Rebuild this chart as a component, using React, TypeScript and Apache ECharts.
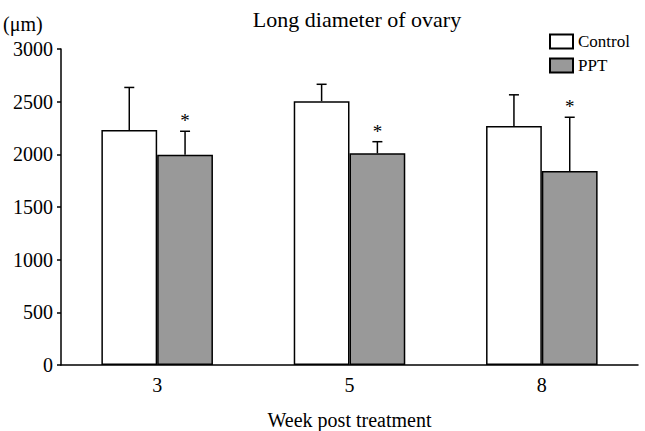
import React, { useEffect, useRef } from "react";
import * as echarts from "echarts";

const categories = ["3", "5", "8"];
const controlValues = [2230, 2505, 2270];
const controlErrors = [405, 160, 295];
const pptValues = [1997, 2010, 1842];
const pptErrors = [222, 110, 510];
const yTicks = { min: 0, max: 3000, interval: 500 };

const FONT = "Liberation Serif";

export default function App() {
  const ref = useRef<HTMLDivElement>(null);
  useEffect(() => {
    if (!ref.current) return;
    const chart = echarts.init(ref.current, null, { renderer: "svg" });
    const catGapPct = 0.42;
    const makeErr = (vals: number[], errs: number[], side: number, star: boolean) => ({
      type: "custom",
      z: 5,
      silent: true,
      data: vals.map((v, i) => [i, v, v + errs[i]]),
      renderItem: (params: any, api: any) => {
        const idx = api.value(0);
        const base = api.coord([idx, api.value(1)]);
        const top = api.coord([idx, api.value(2)]);
        const band = api.size([1, 0])[0];
        const bw = (band * (1 - catGapPct)) / 2;
        const x = base[0] + side * bw / 2;
        const cap = 5;
        const style = { stroke: "#000", lineWidth: 1.5 };
        const children: any[] = [
          { type: "line", shape: { x1: x, y1: base[1], x2: x, y2: top[1] }, style },
          { type: "line", shape: { x1: x - cap, y1: top[1], x2: x + cap, y2: top[1] }, style },
        ];
        if (star) {
          children.push({
            type: "text",
            style: {
              text: "*",
              x: x,
              y: top[1] - 1,
              align: "center",
              verticalAlign: "bottom",
              fontFamily: FONT,
              fontSize: 19,
              fill: "#000",
            },
          });
        }
        return { type: "group", children };
      },
    });
    chart.setOption({
      animation: false,
      backgroundColor: "#fff",
      textStyle: { fontFamily: FONT, color: "#000" },
      title: {
        text: "Long diameter of ovary",
        left: 352,
        textAlign: "center",
        top: 3,
        textStyle: { fontFamily: FONT, fontSize: 22, fontWeight: "normal", color: "#000" },
      },
      legend: {
        orient: "vertical",
        left: 544,
        top: 28,
        itemWidth: 23,
        itemHeight: 14,
        itemGap: 7,
        icon: "rect",
        textStyle: { fontFamily: FONT, fontSize: 17, color: "#000" },
        data: ["Control", "PPT"],
      },
      graphic: [
        {
          type: "text",
          left: 3,
          top: 14,
          style: { text: "(μm)", fontFamily: FONT, fontSize: 20, fill: "#000" },
        },
      ],
      grid: { left: 61, right: 7, top: 49, bottom: 66, containLabel: false, outerBoundsMode: "none" },
      xAxis: {
        type: "category",
        data: categories,
        boundaryGap: true,
        axisLine: { lineStyle: { color: "#000", width: 1.5 } },
        axisTick: { inside: true, length: 4, lineStyle: { color: "#000", width: 1.5 } },
        axisLabel: { fontFamily: FONT, fontSize: 20, color: "#000", margin: 10 },
        name: "Week post treatment",
        nameLocation: "middle",
        nameGap: 45,
        nameTextStyle: { fontFamily: FONT, fontSize: 20, color: "#000" },
      },
      yAxis: {
        type: "value",
        min: yTicks.min,
        max: yTicks.max,
        interval: yTicks.interval,
        splitLine: { show: false },
        axisLine: { show: true, lineStyle: { color: "#000", width: 1.5 } },
        axisTick: { show: true, length: 4, lineStyle: { color: "#000", width: 1.5 } },
        axisLabel: {
          fontFamily: FONT,
          fontSize: 20,
          color: "#000",
          margin: 8,
          formatter: (v: number) => String(v),
        },
      },
      series: [
        {
          name: "Control",
          type: "bar",
          data: controlValues,
          barGap: "0%",
          barCategoryGap: "42%",
          itemStyle: { color: "#fff", borderColor: "#000", borderWidth: 1.5 },
          z: 3,
        },
        {
          name: "PPT",
          type: "bar",
          data: pptValues,
          barGap: "0%",
          barCategoryGap: "42%",
          itemStyle: { color: "#999999", borderColor: "#000", borderWidth: 1.5 },
          z: 3,
        },
        makeErr(controlValues, controlErrors, -1, false),
        makeErr(pptValues, pptErrors, 1, true),
      ],
    });
    return () => chart.dispose();
  }, []);
  return <div ref={ref} style={{ width: 645, height: 431, position: "absolute", left: 0, top: 0 }} />;
}
